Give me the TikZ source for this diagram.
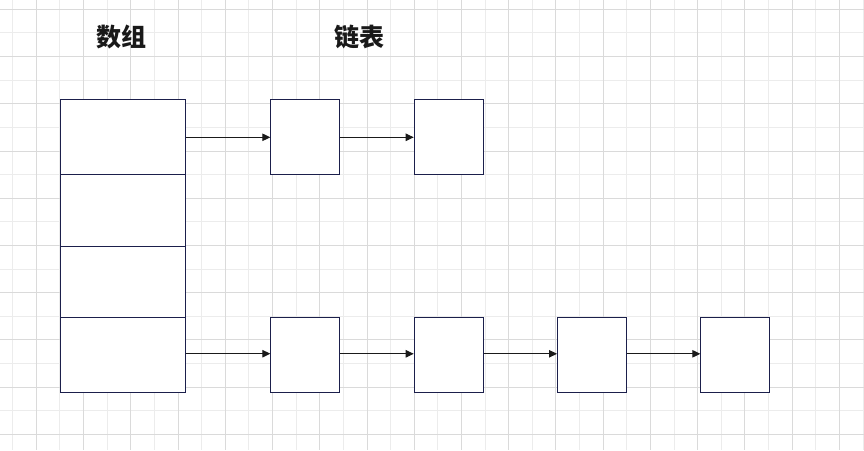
\documentclass[tikz,border=0pt]{standalone}
\usepackage{fontspec}
\newfontfamily\cjk{Noto Sans CJK SC}
\usetikzlibrary{arrows.meta}
\definecolor{boxline}{HTML}{1B1F4B}
\definecolor{arrowline}{HTML}{1A1A1A}
\definecolor{gridmajor}{HTML}{DADADA}
\definecolor{gridminor}{HTML}{ECECEC}
\begin{document}
\begin{tikzpicture}[x=1pt,y=-1pt,
  cell/.style={draw=boxline,line width=1pt,fill=white,rectangle,inner sep=0pt,anchor=north west},
  link/.style={draw=arrowline,line width=1pt,-{Triangle[length=8pt,width=7.5pt]}},
  title/.style={font=\cjk\bfseries\fontsize{25}{29}\selectfont,text=black!90,inner sep=0pt}]
\useasboundingbox (0,0) rectangle (864,450);
\fill[white] (0,0) rectangle (864,450);
% grid
\foreach \k in {0,...,36}{
  \pgfmathsetmacro{\gx}{12.7+23.62*\k}
  \pgfmathtruncatemacro{\odd}{mod(\k,2)}
  \ifnum\odd=0
    \draw[gridminor,line width=1pt] (\gx,0) -- (\gx,450);
  \fi
}
\foreach \k in {0,...,18}{
  \pgfmathsetmacro{\gy}{9.3+23.62*\k}
  \pgfmathtruncatemacro{\odd}{mod(\k,2)}
  \ifnum\odd=1
    \draw[gridminor,line width=1pt] (0,\gy) -- (864,\gy);
  \fi
}
\foreach \k in {0,...,36}{
  \pgfmathsetmacro{\gx}{12.7+23.62*\k}
  \pgfmathtruncatemacro{\odd}{mod(\k,2)}
  \ifnum\odd=1
    \draw[gridmajor,line width=1pt] (\gx,0) -- (\gx,450);
  \fi
}
\foreach \k in {0,...,18}{
  \pgfmathsetmacro{\gy}{9.3+23.62*\k}
  \pgfmathtruncatemacro{\odd}{mod(\k,2)}
  \ifnum\odd=0
    \draw[gridmajor,line width=1pt] (0,\gy) -- (864,\gy);
  \fi
}
% titles
\node[title] (tarr) at (121.5,37) {数组};
\node[title] (tlist) at (359.5,37) {链表};
% array cells
\node[cell,minimum width=125pt,minimum height=75pt] (a1) at (60.3,99.3) {};
\node[cell,minimum width=125pt,minimum height=72pt] (a2) at (60.3,174.3) {};
\node[cell,minimum width=125pt,minimum height=70.7pt] (a3) at (60.3,246.3) {};
\node[cell,minimum width=125pt,minimum height=75pt] (a4) at (60.3,317) {};
% list row 1
\node[cell,minimum width=69pt,minimum height=75pt] (l11) at (270.3,99.3) {};
\node[cell,minimum width=69pt,minimum height=75pt] (l12) at (413.7,99.3) {};
% list row 2
\node[cell,minimum width=69pt,minimum height=75pt] (l21) at (270.3,317.3) {};
\node[cell,minimum width=69pt,minimum height=75pt] (l22) at (413.7,317.3) {};
\node[cell,minimum width=69pt,minimum height=75pt] (l23) at (557.0,317.3) {};
\node[cell,minimum width=69pt,minimum height=75pt] (l24) at (700.3,317.3) {};
% connectors
\draw[link] (a1.east) -- (l11.west);
\draw[link] (l11.east) -- (l12.west);
\draw[link] ([yshift=1.3pt]a4.east) -- ([yshift=1.3pt]l21.west |- a4.east);
\draw[link] ([yshift=1.5pt]l21.east) -- ([yshift=1.5pt]l22.west);
\draw[link] ([yshift=1.5pt]l22.east) -- ([yshift=1.5pt]l23.west);
\draw[link] ([yshift=1.5pt]l23.east) -- ([yshift=1.5pt]l24.west);
\end{tikzpicture}
\end{document}
